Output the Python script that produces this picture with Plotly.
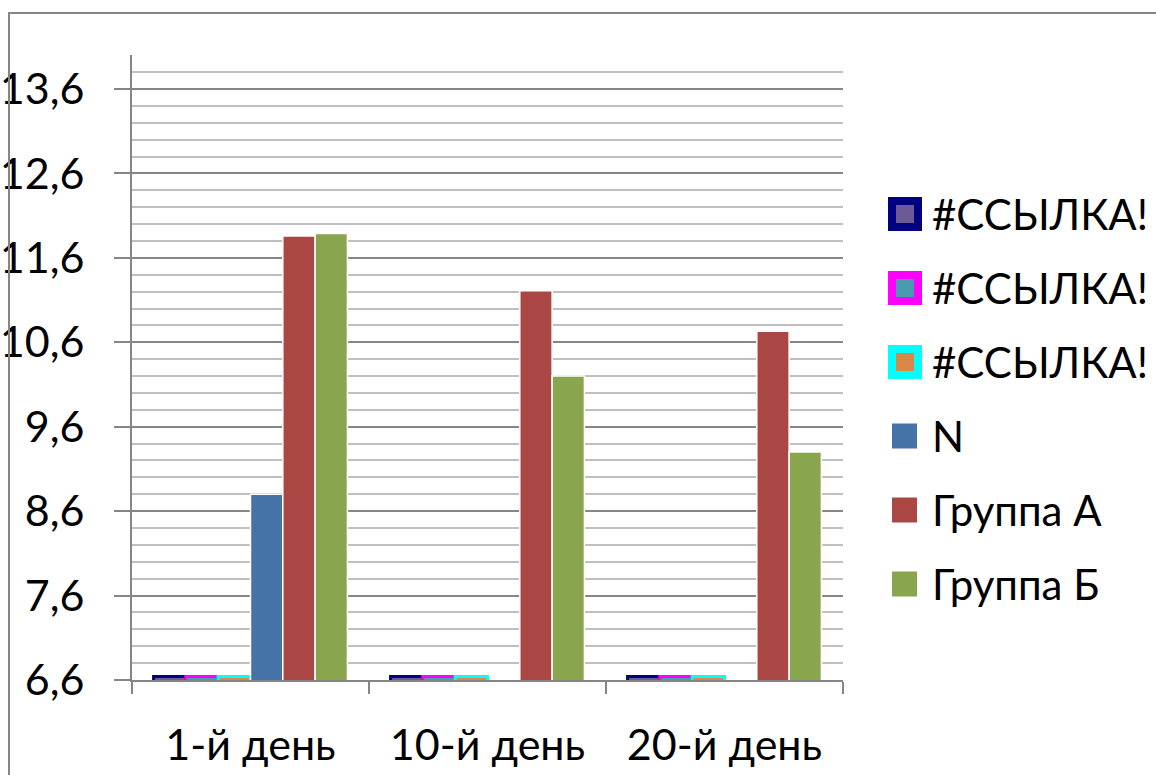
import plotly.graph_objects as go

# ---- data -------------------------------------------------------------
categories = ["1-й день", "10-й день", "20-й день"]

series_names = ["#ССЫЛКА!", "#ССЫЛКА!", "#ССЫЛКА!", "N", "Группа А", "Группа Б"]
ref_1 = [6.64, 6.64, 6.64]
ref_2 = [6.64, 6.64, 6.64]
ref_3 = [6.64, 6.64, 6.64]
n_vals = [8.8, None, None]
group_a = [11.86, 11.21, 10.73]
group_b = [11.89, 10.2, 9.3]

y_tickvals = [6.6, 7.6, 8.6, 9.6, 10.6, 11.6, 12.6, 13.6]
y_ticktext = ["6,6", "7,6", "8,6", "9,6", "10,6", "11,6", "12,6", "13,6"]

# ---- styling ----------------------------------------------------------
fill_colors = ["#6E5A92", "#4A9AB0", "#DA8848", "#4572A7", "#AA4643", "#89A54E"]
edge_colors = ["#000080", "#FF00FF", "#00FFFF", "#FFFFFF", "#FFFFFF", "#FFFFFF"]
edge_widths = [3, 3, 3, 1.5, 1.5, 1.5]

FONT = "Lato, 'Open Sans', sans-serif"
FSIZE = 43
AXIS_GREY = "#868686"
MINOR_GREY = "#BFBFBF"

W, H = 1156, 775
ML, MR, MT, MB = 132, 313, 55, 95
PW, PH = W - ML - MR, H - MT - MB


def px_x(px):
    return (px - ML) / PW


def px_y(py):
    return (H - MB - py) / PH


values = [ref_1, ref_2, ref_3, n_vals, group_a, group_b]

fig = go.Figure()
for name, vals, fc, ec, ew in zip(series_names, values, fill_colors, edge_colors, edge_widths):
    fig.add_trace(go.Bar(
        x=categories, y=vals, name=name, showlegend=False,
        marker=dict(color=fc, line=dict(color=ec, width=ew)),
    ))

shapes = []
annotations = []

# outer chart-area frame
shapes.append(dict(type="rect", xref="paper", yref="paper",
                   x0=px_x(9), x1=px_x(1300), y0=px_y(900), y1=px_y(13),
                   line=dict(color=AXIS_GREY, width=2), fillcolor="rgba(0,0,0,0)",
                   layer="above"))

# legend drawn as swatches plus labels
legend_y = [214, 288, 362, 436, 510, 584]
for i, (name, fc, ec) in enumerate(zip(series_names, fill_colors, edge_colors)):
    cy = legend_y[i]
    if ec != "#FFFFFF":
        shapes.append(dict(type="rect", xref="paper", yref="paper",
                           x0=px_x(892), x1=px_x(918), y0=px_y(cy + 13), y1=px_y(cy - 13),
                           fillcolor=fc, line=dict(color=ec, width=8)))
    else:
        shapes.append(dict(type="rect", xref="paper", yref="paper",
                           x0=px_x(892), x1=px_x(917), y0=px_y(cy + 12.5), y1=px_y(cy - 12.5),
                           fillcolor=fc, line=dict(width=0)))
    annotations.append(dict(xref="paper", yref="paper", x=px_x(930), y=px_y(cy),
                            xanchor="left", yanchor="middle", showarrow=False,
                            text=name, font=dict(family=FONT, size=FSIZE - 1, color="black")))

fig.update_layout(
    width=W, height=H, autosize=False,
    margin=dict(l=ML, r=MR, t=MT, b=MB, pad=0, autoexpand=False),
    paper_bgcolor="white", plot_bgcolor="white",
    barmode="group", bargap=0.182, bargroupgap=0,
    font=dict(family=FONT, size=FSIZE, color="black"),
    shapes=shapes, annotations=annotations,
    showlegend=False,
)

fig.update_yaxes(
    automargin=False,
    range=[6.6, 14.003], tickvals=y_tickvals, ticktext=y_ticktext,
    showgrid=True, gridcolor=AXIS_GREY, gridwidth=1.5,
    minor=dict(dtick=0.2, tick0=6.6, showgrid=True, gridcolor=MINOR_GREY, gridwidth=1.5, ticks=""),
    showline=True, linecolor=AXIS_GREY, linewidth=2,
    ticks="outside", ticklen=16, tickcolor=AXIS_GREY, tickwidth=2,
    ticklabelstandoff=21, zeroline=False,
    tickfont=dict(family=FONT, size=FSIZE, color="black"),
)

fig.update_xaxes(
    automargin=False,
    showline=True, linecolor=AXIS_GREY, linewidth=2,
    ticks="outside", tickson="boundaries", ticklen=12, tickcolor=AXIS_GREY, tickwidth=2,
    ticklabelstandoff=26, showgrid=False,
    tickfont=dict(family=FONT, size=FSIZE, color="black"),
)

fig.write_html("out.html")
